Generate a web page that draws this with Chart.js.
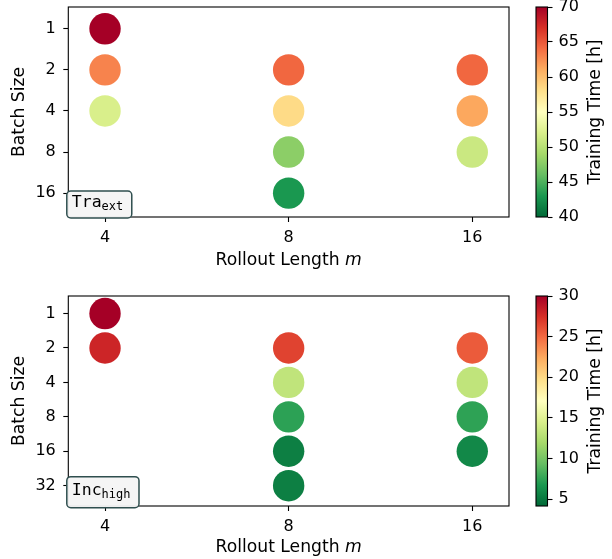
<!DOCTYPE html>
<html>
<head>
<meta charset="utf-8">
<script src="https://cdn.jsdelivr.net/npm/chart.js@4.4.1/dist/chart.umd.min.js"></script>
<style>
html,body{margin:0;padding:0;background:#fff;}
body{width:612px;height:559px;position:relative;overflow:hidden;}
canvas{position:absolute;}
</style>
</head>
<body>
<canvas id="s1" width="520" height="280" style="left:0;top:0"></canvas>
<canvas id="c1" width="92" height="250" style="left:520px;top:-13px"></canvas>
<canvas id="s2" width="520" height="279" style="left:0;top:280px"></canvas>
<canvas id="c2" width="92" height="250" style="left:520px;top:276px"></canvas>
<script>
// ---- data ----
const rolloutLabels = ['4', '8', '16'];
const batchLabelsTra = ['1', '2', '4', '8', '16'];
const batchLabelsInc = ['1', '2', '4', '8', '16', '32'];

const traRollout = [4, 4, 4, 8, 8, 8, 8, 16, 16, 16];
const traBatch   = [1, 2, 4, 2, 4, 8, 16, 2, 4, 8];
const traTime    = [70, 63, 52, 64.3, 58.3, 47.8, 43, 64.3, 61.3, 51.1];

const incRollout = [4, 4, 8, 8, 8, 8, 8, 16, 16, 16, 16];
const incBatch   = [1, 2, 2, 4, 8, 16, 32, 2, 4, 8, 16];
const incTime    = [30, 28, 26.6, 13.2, 7.35, 5.4, 5.4, 25.6, 13.2, 7.4, 5.9];

const traRange = [40, 70];
const incRange = [4.15, 30];
const traCbTicks = [40, 45, 50, 55, 60, 65, 70];
const incCbTicks = [5, 10, 15, 20, 25, 30];

// ---- colormap RdYlGn_r ----
const cmapStops = ['#006837','#1a9850','#66bd63','#a6d96a','#d9ef8b','#ffffbf','#fee08b','#fdae61','#f46d43','#d73027','#a50026'];
function hex2rgb(h){return [parseInt(h.substr(1,2),16),parseInt(h.substr(3,2),16),parseInt(h.substr(5,2),16)];}
function cmap(t){
  t = Math.max(0, Math.min(1, t));
  const p = t * (cmapStops.length - 1);
  const i = Math.min(Math.floor(p), cmapStops.length - 2);
  const f = p - i;
  const a = hex2rgb(cmapStops[i]), b = hex2rgb(cmapStops[i+1]);
  const c = a.map((v, k) => Math.round(v + (b[k] - v) * f));
  return `rgb(${c[0]},${c[1]},${c[2]})`;
}

const FONT = '"DejaVu Sans", sans-serif';
const MONO = '"DejaVu Sans Mono", monospace';
const TICK_PX = 16;
const LABEL_PX = 17.2;

const framePlugin = {
  id: 'framePlugin',
  afterDraw(chart, args, opts) {
    const {ctx, chartArea: ca} = chart;
    ctx.save();
    // frame
    ctx.strokeStyle = '#000';
    ctx.lineWidth = 1.1;
    ctx.strokeRect(ca.left, ca.top, ca.right - ca.left, ca.bottom - ca.top);
    // x title with italic m
    ctx.fillStyle = '#000';
    ctx.textBaseline = 'middle';
    ctx.textAlign = 'left';
    const f1 = `${LABEL_PX}px ${FONT}`, f2 = `italic ${LABEL_PX}px ${FONT}`;
    ctx.font = f1; const w1 = ctx.measureText(opts.xTitle).width;
    ctx.font = f2; const w2 = ctx.measureText(opts.xTitleItalic).width;
    let x = (ca.left + ca.right) / 2 - (w1 + w2) / 2;
    const y = ca.bottom + opts.xTitleOffset;
    ctx.font = f1; ctx.fillText(opts.xTitle, x, y);
    ctx.font = f2; ctx.fillText(opts.xTitleItalic, x + w1, y);
    // text box
    const mainF = `16.5px ${MONO}`, subF = `12px ${MONO}`;
    ctx.font = mainF; const mw = ctx.measureText(opts.boxMain).width;
    ctx.font = subF; const sw = ctx.measureText(opts.boxSub).width;
    const bl = ca.left - 1.5, bw = mw + sw + 13.5, bb = ca.bottom + opts.boxDrop, bh = opts.boxH, bt = bb - bh;
    ctx.beginPath();
    ctx.roundRect(bl, bt, bw, bh, 4);
    ctx.fillStyle = 'rgba(244,244,244,0.95)';
    ctx.fill();
    ctx.lineWidth = 1.5;
    ctx.strokeStyle = '#2f4f4f';
    ctx.stroke();
    ctx.fillStyle = '#000';
    ctx.textBaseline = 'alphabetic';
    const base = bt + opts.baseOff;
    ctx.font = mainF; ctx.fillText(opts.boxMain, bl + 5, base);
    ctx.font = subF; ctx.fillText(opts.boxSub, bl + 5 + mw, base + 3);
    ctx.restore();
  }
};

function makeScatter(id, rolls, batches, times, batchLabels, range, ymin, ymax, padTop, padBottom, xAxisH, box) {
  const pts = rolls.map((r, i) => ({x: rolloutLabels.indexOf(String(r)), y: batchLabels.indexOf(String(batches[i]))}));
  const cols = times.map(t => cmap((t - range[0]) / (range[1] - range[0])));
  return new Chart(document.getElementById(id), {
    type: 'scatter',
    data: { datasets: [{ data: pts, backgroundColor: cols, pointRadius: 15.7, pointHoverRadius: 15.7, borderWidth: 0, pointBorderWidth: 0 }] },
    options: {
      responsive: false, animation: false, events: [],
      layout: { autoPadding: false, padding: { left: 0, right: 11, top: padTop, bottom: padBottom } },
      plugins: { legend: {display: false}, tooltip: {enabled: false}, framePlugin: box },
      scales: {
        x: {
          type: 'linear', min: -0.2, max: 2.2,
          afterBuildTicks: a => { a.ticks = rolloutLabels.map((_, i) => ({value: i})); },
          afterFit: a => { a.height = xAxisH; a.paddingLeft = 0; a.paddingRight = 0; },
          grid: { drawOnChartArea: false, drawTicks: true, tickLength: 5, tickColor: '#000', tickWidth: 1.1 },
          border: { display: false },
          ticks: { callback: v => rolloutLabels[v], color: '#000', font: {family: FONT, size: TICK_PX}, padding: 6, maxRotation: 0 }
        },
        y: {
          type: 'linear', reverse: true, min: ymin, max: ymax,
          afterBuildTicks: a => { a.ticks = batchLabels.map((_, i) => ({value: i})); },
          afterFit: a => { a.width = 68.3; a.paddingTop = 0; a.paddingBottom = 0; },
          grid: { drawOnChartArea: false, drawTicks: true, tickLength: 5, tickColor: '#000', tickWidth: 1.1 },
          border: { display: false },
          ticks: { callback: v => batchLabels[v], color: '#000', font: {family: FONT, size: TICK_PX}, padding: 7.5 },
          title: { display: true, text: 'Batch Size', color: '#000', font: {family: FONT, size: LABEL_PX}, padding: {top: 9, bottom: 2} }
        }
      }
    },
    plugins: [framePlugin]
  });
}

const cbPlugin = {
  id: 'cbPlugin',
  afterDraw(chart) {
    const {ctx, chartArea: ca} = chart;
    ctx.save();
    ctx.strokeStyle = '#000'; ctx.lineWidth = 1.1;
    ctx.strokeRect(ca.left, ca.top, ca.right - ca.left, ca.bottom - ca.top);
    ctx.translate(76, (ca.top + ca.bottom) / 2);
    ctx.rotate(-Math.PI / 2);
    ctx.fillStyle = '#000';
    ctx.font = `${LABEL_PX}px ${FONT}`;
    ctx.textAlign = 'center'; ctx.textBaseline = 'middle';
    ctx.fillText('Training Time [h]', 0, 0);
    ctx.restore();
  }
};

function makeColorbar(id, range, ticks) {
  return new Chart(document.getElementById(id), {
    type: 'bar',
    data: { labels: [''], datasets: [{
      data: [[range[0], range[1]]],
      barPercentage: 1, categoryPercentage: 1, borderWidth: 0, borderSkipped: false,
      backgroundColor: c => {
        const ca = c.chart.chartArea;
        if (!ca) return '#fff';
        const g = c.chart.ctx.createLinearGradient(0, ca.bottom, 0, ca.top);
        cmapStops.forEach((s, i) => g.addColorStop(i / (cmapStops.length - 1), s));
        return g;
      }
    }] },
    options: {
      responsive: false, animation: false, events: [],
      layout: { autoPadding: false, padding: { left: 16, right: 19.5, top: 20, bottom: 20 } },
      plugins: { legend: {display: false}, tooltip: {enabled: false} },
      scales: {
        x: { display: false },
        y: {
          position: 'right', min: range[0], max: range[1],
          afterBuildTicks: a => { a.ticks = ticks.map(v => ({value: v})); },
          afterFit: a => { a.width = 45; a.paddingTop = 0; a.paddingBottom = 0; },
          grid: { drawOnChartArea: false, drawTicks: true, tickLength: 5, tickColor: '#000', tickWidth: 1.1 },
          border: { display: false },
          ticks: { color: '#000', font: {family: FONT, size: TICK_PX}, padding: 6 }
        }
      }
    },
    plugins: [cbPlugin]
  });
}

makeScatter('s1', traRollout, traBatch, traTime, batchLabelsTra, traRange, -0.53, 4.58, 7, 8, 55,
  {xTitle: 'Rollout Length ', xTitleItalic: 'm', xTitleOffset: 44, boxMain: 'Tra', boxSub: 'ext', boxH: 27, boxDrop: 1, baseOff: 16});
makeColorbar('c1', traRange, traCbTicks);
makeScatter('s2', incRollout, incBatch, incTime, batchLabelsInc, incRange, -0.51, 5.59, 16, 3, 50,
  {xTitle: 'Rollout Length ', xTitleItalic: 'm', xTitleOffset: 42, boxMain: 'Inc', boxSub: 'high', boxH: 31, boxDrop: 1.7, baseOff: 18.5});
makeColorbar('c2', incRange, incCbTicks);
</script>
</body>
</html>
